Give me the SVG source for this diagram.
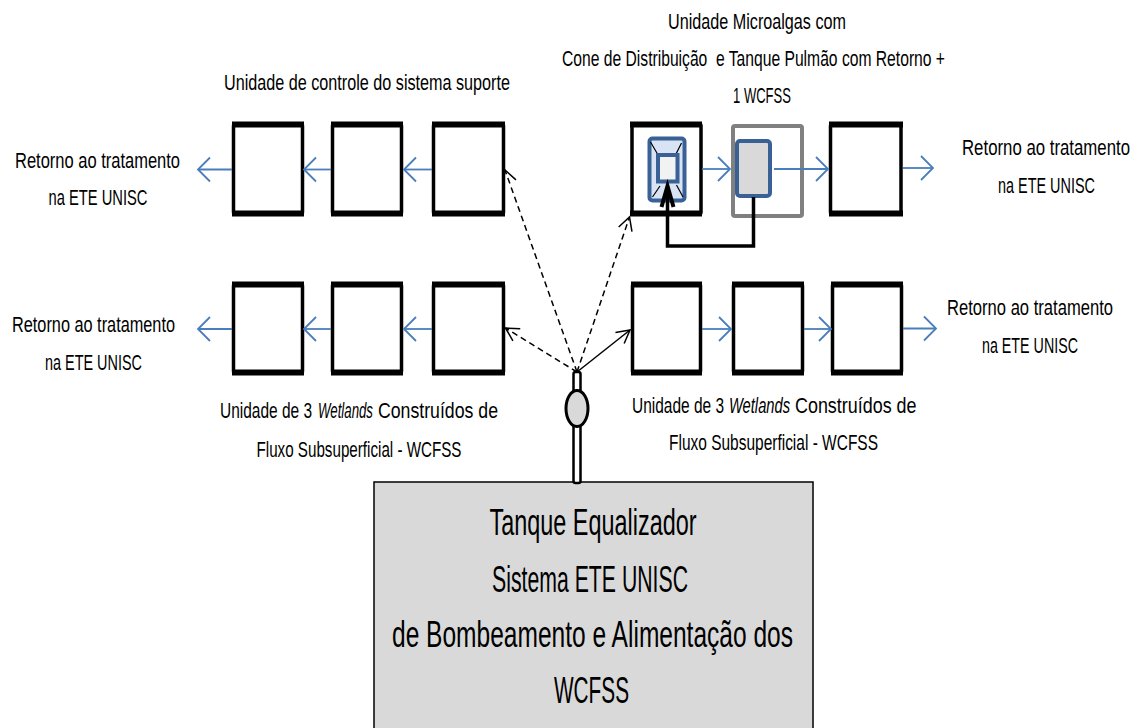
<svg xmlns="http://www.w3.org/2000/svg" width="1138" height="728" viewBox="0 0 1138 728">
  <style>
    text { font-family: "Liberation Sans Narrow", "Liberation Sans", Arial, sans-serif; fill: #000; }
    .lbl { font-size: 22px; text-anchor: middle; }
    .seg { font-size: 22px; text-anchor: start; }
    .it { font-style: italic; }
    .big { font-size: 36px; text-anchor: middle; }
    .box { fill: #fff; stroke: #000; stroke-width: 3.5; }
    .edge { fill: none; stroke: #000; stroke-width: 6; }
    .flow { fill: none; stroke: #4a7ebb; stroke-width: 1.8; marker-end: url(#blueHead); }
    .feed { fill: none; stroke: #000; stroke-width: 1.5; marker-end: url(#blackHead); }
    .dash { stroke-dasharray: 6 4; }
  </style>
  <defs>
    <marker id="blueHead" markerUnits="userSpaceOnUse" markerWidth="30" markerHeight="30" viewBox="-15 -15 30 30" refX="0" refY="0" orient="auto">
      <path d="M-12,-12 L0,0 L-12,12" fill="none" stroke="#4a7ebb" stroke-width="1.8" stroke-dasharray="none"/>
    </marker>
    <marker id="blackHead" markerUnits="userSpaceOnUse" markerWidth="30" markerHeight="30" viewBox="-15 -15 30 30" refX="0" refY="0" orient="auto">
      <path d="M-13,-7 L0,0 L-13,7" fill="none" stroke="#000" stroke-width="1.5" stroke-dasharray="none"/>
    </marker>
  </defs>

  <rect width="1138" height="728" fill="#fff"/>

  <!-- control unit row (top left) -->
  <g id="control-unit">
    <rect class="box" x="233.5" y="124" width="69" height="90" rx="2"/>
    <rect class="box" x="332.5" y="124" width="69" height="90" rx="2"/>
    <rect class="box" x="433.5" y="124" width="70" height="90" rx="2"/>
    <path class="edge" d="M232,124.5 H304 M232,213.5 H304 M331,124.5 H403 M331,213.5 H403 M432,124.5 H505 M432,213.5 H505"/>
    <text class="lbl" x="367" y="90" textLength="286" lengthAdjust="spacingAndGlyphs">Unidade de controle do sistema suporte</text>
  </g>

  <!-- microalgae unit row (top right) -->
  <g id="microalgae-unit">
    <rect class="box" x="632" y="124" width="69" height="90" rx="2"/>
    <path class="edge" d="M630,124.5 H702 M630,213.5 H702"/>
    <!-- distribution cone, seen from above -->
    <rect x="649.5" y="138.5" width="35" height="62" rx="3" fill="#dae3f3" stroke="#3a6196" stroke-width="4"/>
    <path d="M650.5,142 L657.5,154 M681.5,143 L676,154 M652.5,197 L660,186 M683,197 L676.5,185" stroke="#000" stroke-width="1.2" fill="none"/>
    <rect x="658" y="155" width="19.5" height="26.5" fill="#f2f2f2" stroke="#3a6196" stroke-width="4"/>
    <!-- buffer tank -->
    <rect x="733" y="126" width="69" height="90" rx="2" fill="#fff" stroke="#808080" stroke-width="4"/>
    <rect x="737" y="141" width="33" height="55" rx="3" fill="#d9d9d9" stroke="#3a6196" stroke-width="4"/>
    <!-- wetland cell -->
    <rect class="box" x="830.5" y="124" width="70.5" height="90" rx="2"/>
    <path class="edge" d="M829,124.5 H903 M829,213.5 H903"/>
    <text class="lbl" x="757" y="29" textLength="178" lengthAdjust="spacingAndGlyphs">Unidade Microalgas com</text>
    <text class="lbl" x="753.5" y="66" textLength="383" lengthAdjust="spacingAndGlyphs" style="white-space:pre">Cone de Distribuição  e Tanque Pulmão com Retorno +</text>
    <text class="lbl" x="762" y="103" textLength="58" lengthAdjust="spacingAndGlyphs">1 WCFSS</text>
  </g>

  <!-- wetland row (bottom left) -->
  <g id="wetlands-left">
    <rect class="box" x="233.5" y="284" width="69" height="89" rx="2"/>
    <rect class="box" x="332.5" y="284" width="69" height="89" rx="2"/>
    <rect class="box" x="433.5" y="284" width="70" height="89" rx="2"/>
    <path class="edge" d="M232,284.5 H304 M232,372.5 H304 M331,284.5 H403 M331,372.5 H403 M432,284.5 H505 M432,372.5 H505"/>
    <text class="seg" x="220" y="418" textLength="92" lengthAdjust="spacingAndGlyphs">Unidade de 3</text>
    <text class="seg it" x="318" y="418" textLength="55" lengthAdjust="spacingAndGlyphs">Wetlands</text>
    <text class="seg" x="378" y="418" textLength="120" lengthAdjust="spacingAndGlyphs">Construídos de</text>
    <text class="lbl" x="359" y="456.5" textLength="205" lengthAdjust="spacingAndGlyphs">Fluxo Subsuperficial - WCFSS</text>
  </g>

  <!-- wetland row (bottom right) -->
  <g id="wetlands-right">
    <rect class="box" x="632.5" y="284" width="68" height="89" rx="2"/>
    <rect class="box" x="733.5" y="284" width="69" height="89" rx="2"/>
    <rect class="box" x="832.5" y="284" width="69" height="89" rx="2"/>
    <path class="edge" d="M631,284.5 H702 M631,372.5 H702 M732,284.5 H804 M732,372.5 H804 M831,284.5 H903 M831,372.5 H903"/>
    <text class="seg" x="632" y="413" textLength="92" lengthAdjust="spacingAndGlyphs">Unidade de 3</text>
    <text class="seg it" x="729" y="413" textLength="61" lengthAdjust="spacingAndGlyphs">Wetlands</text>
    <text class="seg" x="795" y="413" textLength="121.5" lengthAdjust="spacingAndGlyphs">Construídos de</text>
    <text class="lbl" x="773.5" y="450" textLength="209" lengthAdjust="spacingAndGlyphs">Fluxo Subsuperficial - WCFSS</text>
  </g>

  <!-- return labels -->
  <g id="return-top-left">
    <text class="lbl" x="97.5" y="168" textLength="165" lengthAdjust="spacingAndGlyphs">Retorno ao tratamento</text>
    <text class="lbl" x="98" y="205" textLength="99" lengthAdjust="spacingAndGlyphs">na ETE UNISC</text>
  </g>
  <g id="return-bottom-left">
    <text class="lbl" x="93.5" y="331.5" textLength="163" lengthAdjust="spacingAndGlyphs">Retorno ao tratamento</text>
    <text class="lbl" x="93.5" y="370" textLength="97" lengthAdjust="spacingAndGlyphs">na ETE UNISC</text>
  </g>
  <g id="return-top-right">
    <text class="lbl" x="1046" y="155" textLength="168" lengthAdjust="spacingAndGlyphs">Retorno ao tratamento</text>
    <text class="lbl" x="1046.5" y="193" textLength="97" lengthAdjust="spacingAndGlyphs">na ETE UNISC</text>
  </g>
  <g id="return-bottom-right">
    <text class="lbl" x="1030" y="315" textLength="166" lengthAdjust="spacingAndGlyphs">Retorno ao tratamento</text>
    <text class="lbl" x="1030" y="353" textLength="96" lengthAdjust="spacingAndGlyphs">na ETE UNISC</text>
  </g>

  <!-- equalization tank with pump -->
  <g id="equalization-tank">
    <rect x="374" y="482" width="439" height="262" fill="#d9d9d9" stroke="#000" stroke-width="1.5"/>
    <text class="big" x="593" y="535" textLength="207" lengthAdjust="spacingAndGlyphs">Tanque Equalizador</text>
    <text class="big" x="590" y="591.5" textLength="196" lengthAdjust="spacingAndGlyphs">Sistema ETE UNISC</text>
    <text class="big" x="592.5" y="647" textLength="401" lengthAdjust="spacingAndGlyphs">de Bombeamento e Alimentação dos</text>
    <text class="big" x="591.5" y="703" textLength="75" lengthAdjust="spacingAndGlyphs">WCFSS</text>
  </g>
  <g id="pump">
    <rect x="573.5" y="372" width="7" height="111" rx="2" fill="#fff" stroke="#000" stroke-width="2.5"/>
    <ellipse cx="577" cy="408.5" rx="11" ry="18" fill="#d9d9d9" stroke="#000" stroke-width="3"/>
  </g>

  <!-- connectors -->
  <g id="connectors">
    <!-- effluent flow between cells -->
    <line class="flow" x1="432" y1="169.5" x2="404" y2="169.5"/>
    <line class="flow" x1="331" y1="169.5" x2="304" y2="169.5"/>
    <line class="flow" x1="232" y1="169.5" x2="198" y2="169.5"/>
    <line class="flow" x1="432" y1="329" x2="404" y2="329"/>
    <line class="flow" x1="331" y1="329" x2="304" y2="329"/>
    <line class="flow" x1="232" y1="329" x2="198" y2="329"/>
    <line class="flow" x1="702" y1="169" x2="730" y2="169"/>
    <line class="flow" x1="774" y1="169" x2="828" y2="169"/>
    <line class="flow" x1="903" y1="168" x2="933" y2="168"/>
    <line class="flow" x1="702" y1="329" x2="731" y2="329"/>
    <line class="flow" x1="804" y1="329" x2="831" y2="329"/>
    <line class="flow" x1="903" y1="328.5" x2="936" y2="328.5"/>
    <!-- feed lines from the pump -->
    <line class="feed dash" x1="577" y1="372" x2="505" y2="170"/>
    <line class="feed dash" x1="577" y1="372" x2="629.5" y2="217"/>
    <line class="feed dash" x1="577" y1="372" x2="505.5" y2="328"/>
    <line class="feed" x1="577" y1="372" x2="630" y2="330"/>
    <!-- return from buffer tank to distribution cone -->
    <path d="M753.5,197 V246 H667.5 V188" fill="none" stroke="#000" stroke-width="3.5"/>
    <path d="M661.5,207 L667.5,186 L673.5,207" fill="none" stroke="#000" stroke-width="4"/>
  </g>
</svg>
